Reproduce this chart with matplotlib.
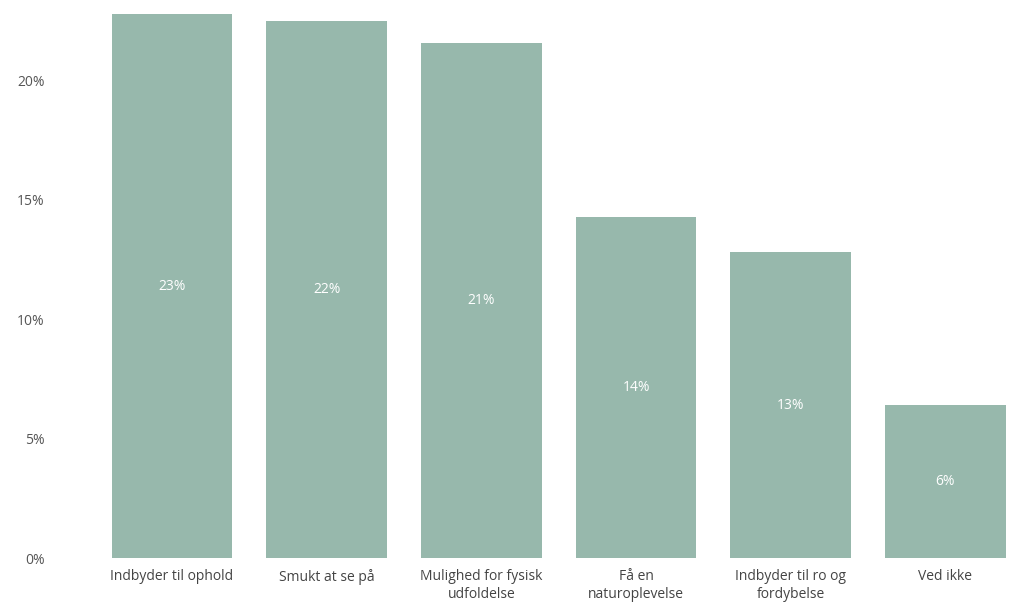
import matplotlib
matplotlib.use("Agg")
import matplotlib.pyplot as plt
from matplotlib.ticker import FuncFormatter

categories = ["Indbyder til ophold", "Smukt at se på", "Mulighed for fysisk\nudfoldelse",
              "Få en\nnaturoplevelse", "Indbyder til ro og\nfordybelse", "Ved ikke"]
values = [22.75, 22.45, 21.55, 14.25, 12.8, 6.4]
value_labels = ["23%", "22%", "21%", "14%", "13%", "6%"]
yticks = [0, 5, 10, 15, 20]

plt.rcParams['font.family'] = ['Open Sans', 'DejaVu Sans']

fig = plt.figure(figsize=(10.26, 6.10), dpi=100)
ax = fig.add_axes([0.0923, 0.0852, 0.9045, 0.9012])
x = range(len(categories))
bars = ax.bar(x, values, width=0.78, color="#97b8ac")
for xi, v, lab in zip(x, values, value_labels):
    ax.text(xi, v / 2, lab, ha="center", va="center", color="white", fontsize=10)

ax.set_xlim(-0.5, len(categories) - 0.5)
ax.set_ylim(0, 23)
ax.set_yticks(yticks)
ax.yaxis.set_major_formatter(FuncFormatter(lambda v, p: f"{v:.0f}%"))
ax.set_xticks(list(x))
ax.set_xticklabels(categories, fontsize=10, color="#444444", linespacing=1.3)
ax.tick_params(axis="y", length=0, pad=36, labelsize=10, labelcolor="#555555")
ax.tick_params(axis="x", length=0, pad=8)
for s in ax.spines.values():
    s.set_visible(False)

fig.savefig("out.png", dpi=100)
